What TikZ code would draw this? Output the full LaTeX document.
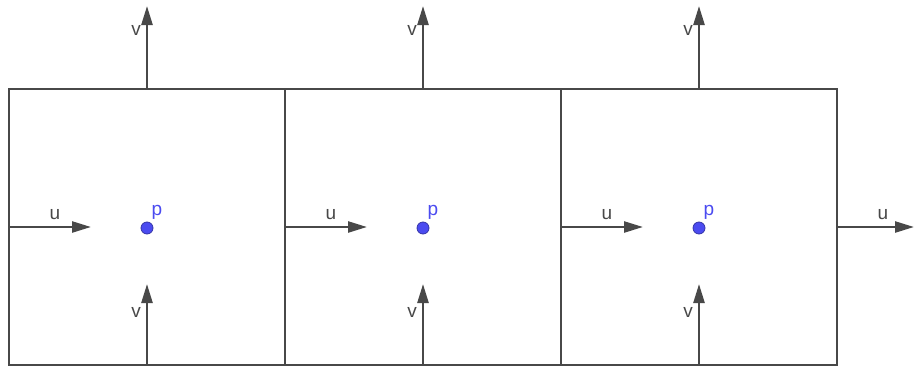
\documentclass[tikz,border=0pt]{standalone}
\usepackage{fontspec}
\setmainfont{Liberation Sans}
\usepackage{xcolor}
\usepackage{tikz}
\usetikzlibrary{arrows.meta, positioning}
\definecolor{edge}{HTML}{484848}
\definecolor{pblue}{HTML}{4B4BF0}

\begin{document}
\begin{tikzpicture}[
    x=1pt, y=-1pt,
    font=\fontsize{19}{22}\selectfont,
    cell/.style={draw=edge, line width=2pt, minimum width=276pt, minimum height=276pt,
                 inner sep=0pt, outer sep=0pt},
    pt/.style={circle, fill=pblue, draw=pblue!70!black, line width=0.8pt, minimum size=12pt, inner sep=0pt},
    lbl/.style={text=edge, inner sep=0pt},
    plbl/.style={text=pblue, inner sep=0pt},
    ar/.style={-{Triangle[length=19pt, width=11pt]}, edge, line width=2.4pt}
  ]
    \useasboundingbox (0,0) rectangle (915,367);
    % cells
    \node[cell] (c1) at (147,227) {};
    \node[cell] (c2) at (423,227) {};
    \node[cell] (c3) at (699,227) {};
    % arrow ends
    \coordinate (t1) at (147,6);   \coordinate (b1) at (147,284);  \coordinate (e1) at (91,227);
    \coordinate (t2) at (423,6);   \coordinate (b2) at (423,284);  \coordinate (e2) at (367,227);
    \coordinate (t3) at (699,6);   \coordinate (b3) at (699,284);  \coordinate (e3) at (643,227);
    \coordinate (e4) at (914,227);
    % pressure points
    \node[pt] (p1) at (147,228) {};
    \node[pt] (p2) at (423,228) {};
    \node[pt] (p3) at (699,228) {};
    \node[plbl] (lp1) at (157,212) {p};
    \node[plbl] (lp2) at (433,212) {p};
    \node[plbl] (lp3) at (709,212) {p};
    % velocities
    \draw[ar] (c1.north) -- (t1);  \draw[ar] (c1.south) -- (b1);  \draw[ar] (c1.west) -- (e1);
    \draw[ar] (c2.north) -- (t2);  \draw[ar] (c2.south) -- (b2);  \draw[ar] (c2.west) -- (e2);
    \draw[ar] (c3.north) -- (t3);  \draw[ar] (c3.south) -- (b3);  \draw[ar] (c3.west) -- (e3);
    \draw[ar] (c3.east) -- (e4);
    \node[lbl] (vt1) at (136,30) {v};  \node[lbl] (vb1) at (136,312) {v};  \node[lbl] (u1) at (55,215) {u};
    \node[lbl] (vt2) at (412,30) {v};  \node[lbl] (vb2) at (412,312) {v};  \node[lbl] (u2) at (331,215) {u};
    \node[lbl] (vt3) at (688,30) {v};  \node[lbl] (vb3) at (688,312) {v};  \node[lbl] (u3) at (607,215) {u};
    \node[lbl] (u4) at (883,215) {u};
  \end{tikzpicture}
\end{document}
